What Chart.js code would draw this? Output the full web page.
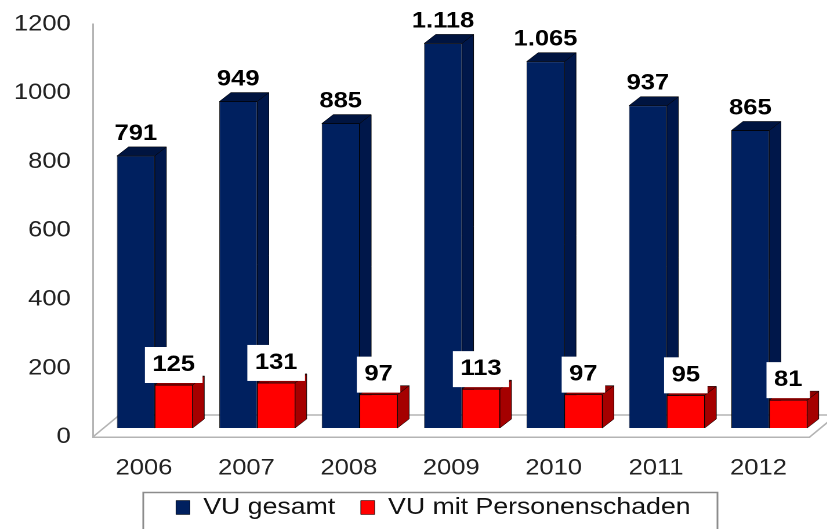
<!DOCTYPE html>
<html>
<head>
<meta charset="utf-8">
<title>VU</title>
<style>
  html, body { margin: 0; padding: 0; background: #fff; overflow: hidden; }
  /* the original picture is stretched sideways, text included */
  canvas { display: block; transform: scaleX(1.16); transform-origin: 0 0; }
</style>
</head>
<body>
<canvas id="myChart" width="713" height="529"></canvas>
<script src="https://cdn.jsdelivr.net/npm/chart.js@4/dist/chart.umd.js"></script>
<script>
const years = ['2006', '2007', '2008', '2009', '2010', '2011', '2012'];
const vuGesamt = [791, 949, 885, 1118, 1065, 937, 865];
const vuPersonen = [125, 131, 97, 113, 97, 95, 81];
const gesamtLabels = ['791', '949', '885', '1.118', '1.065', '937', '865'];
const personenLabels = ['125', '131', '97', '113', '97', '95', '81'];

const depthX = 10, depthY = 9;   // side + top faces of the bars
const backX = 9.3, backY = 9;    // bars stand a bit behind the front edge of the floor
const faceColors = [['#00174a', '#001440'], ['#a50000', '#8c0000']];

function shade(ctx, pts, color) {
  ctx.fillStyle = color;
  ctx.strokeStyle = '#000';
  ctx.lineWidth = 0.5;
  ctx.beginPath();
  pts.forEach((p, i) => i ? ctx.lineTo(p[0], p[1]) : ctx.moveTo(p[0], p[1]));
  ctx.closePath();
  ctx.fill();
  ctx.stroke();
}

function drawFaces(ctx, bars, colors) {
  bars.forEach(bar => {
    const l = bar.x - bar.width / 2, r = bar.x + bar.width / 2;
    shade(ctx, [[r, bar.y], [r + depthX, bar.y - depthY], [r + depthX, bar.base - depthY], [r, bar.base]], colors[0]);
    shade(ctx, [[l, bar.y], [l + depthX, bar.y - depthY], [r + depthX, bar.y - depthY], [r, bar.y]], colors[1]);
  });
}

const fake3d = {
  id: 'fake3d',
  afterLayout(chart) {
    // legend sits off centre in the original
    chart.legend.left += 24.5;
    chart.legend.right += 24.5;
    chart.legend.top -= 10;
  },
  beforeDatasetsDraw(chart) {
    const { ctx, chartArea: a } = chart;
    // floor
    ctx.save();
    ctx.strokeStyle = '#b4b4b4';
    ctx.lineWidth = 1.5;
    ctx.beginPath();
    ctx.moveTo(a.left, a.bottom);
    ctx.lineTo(a.left + 23, a.bottom - 22);
    ctx.lineTo(a.right + 30, a.bottom - 22);
    ctx.moveTo(a.right, a.bottom);
    ctx.lineTo(a.right + 23, a.bottom - 22);
    ctx.stroke();
    ctx.restore();
    ctx.save();
    ctx.translate(backX, -backY);
  },
  afterDatasetsDraw(chart) {
    const { ctx } = chart;
    const navy = chart.getDatasetMeta(0).data;
    const red = chart.getDatasetMeta(1).data;
    drawFaces(ctx, navy, faceColors[0]);
    red.forEach(bar => bar.draw(ctx));   // red stands in front of the navy side faces
    drawFaces(ctx, red, faceColors[1]);
    // value labels
    ctx.font = 'bold 22px "Liberation Sans"';
    ctx.textAlign = 'center';
    ctx.textBaseline = 'middle';
    navy.forEach((bar, i) => {
      ctx.fillStyle = '#000';
      ctx.fillText(gesamtLabels[i], bar.x, bar.y - 22);
    });
    red.forEach((bar, i) => {
      const w = ctx.measureText(personenLabels[i]).width + 13;
      ctx.fillStyle = '#fff';
      ctx.fillRect(bar.x - w / 2, bar.y - 38, w, 36);
      ctx.fillStyle = '#000';
      ctx.fillText(personenLabels[i], bar.x, bar.y - 20);
    });
    ctx.restore();
  },
  afterDraw(chart) {
    // box round the legend
    const { ctx } = chart;
    ctx.save();
    ctx.strokeStyle = '#8c8c8c';
    ctx.lineWidth = 1.5;
    ctx.strokeRect(123.5, 492.5, 495, 40);
    ctx.restore();
  }
};

new Chart(document.getElementById('myChart'), {
  type: 'bar',
  data: {
    labels: years,
    datasets: [
      { label: 'VU gesamt', data: vuGesamt, backgroundColor: '#00205f', borderColor: '#000', borderWidth: 0.5 },
      { label: 'VU mit Personenschaden', data: vuPersonen, backgroundColor: '#ff0000', borderColor: '#000', borderWidth: 0.5 }
    ]
  },
  options: {
    responsive: false,
    animation: false,
    devicePixelRatio: 2,
    layout: { padding: { left: 0, right: 15, top: 2, bottom: -10 } },
    datasets: { bar: { categoryPercentage: 0.74, barPercentage: 1 } },
    scales: {
      x: {
        grid: { display: false },
        border: { color: '#b4b4b4', width: 1.5 },
        afterFit(scale) { scale.height = 47; },
        ticks: { color: '#222', font: { size: 22, family: '"Liberation Sans"' }, padding: 10, maxRotation: 0 }
      },
      y: {
        min: 0,
        max: 1200,
        grid: { display: false },
        border: { color: '#b4b4b4', width: 1.5 },
        afterFit(scale) { scale.width = 80; },
        ticks: {
          stepSize: 200,
          color: '#222',
          font: { size: 22, family: '"Liberation Sans"' },
          padding: 11,
          callback: value => String(value)
        }
      }
    },
    plugins: {
      tooltip: { enabled: false },
      legend: {
        position: 'bottom',
        labels: { color: '#111', font: { size: 23, family: '"Liberation Sans"' }, boxWidth: 12, boxHeight: 14, padding: 22 }
      }
    }
  },
  plugins: [fake3d]
});
</script>
</body>
</html>
